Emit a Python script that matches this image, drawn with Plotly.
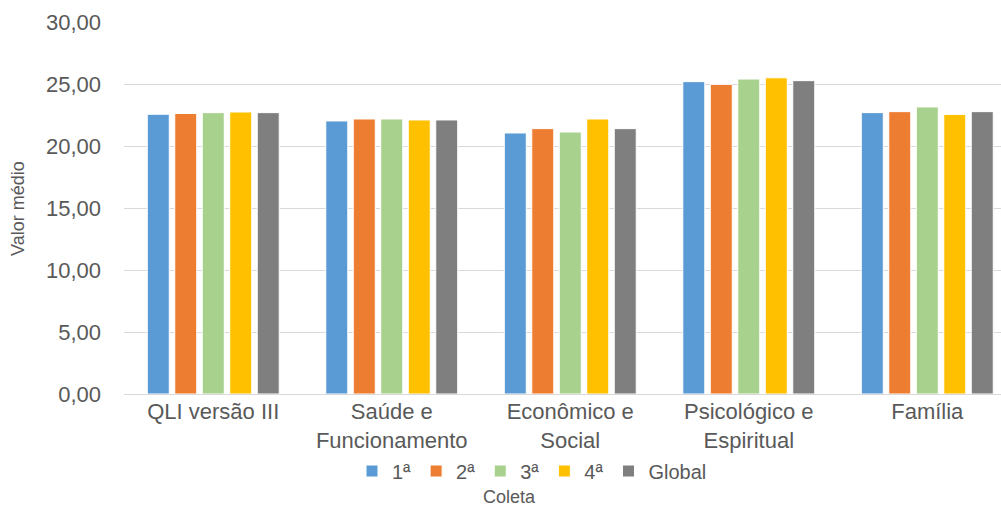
import plotly.graph_objects as go

categories = ["QLI versão III", "Saúde e<br>Funcionamento", "Econômico e<br>Social",
              "Psicológico e<br>Espiritual", "Família"]
series_names = ["1ª", "2ª", "3ª", "4ª", "Global"]
v1 = [22.56, 22.02, 21.05, 25.19, 22.69]
v2 = [22.62, 22.18, 21.40, 24.97, 22.77]
v3 = [22.69, 22.18, 21.13, 25.40, 23.15]
v4 = [22.74, 22.10, 22.18, 25.50, 22.55]
vg = [22.69, 22.10, 21.40, 25.27, 22.77]
values = [v1, v2, v3, v4, vg]
colors = ["#5B9BD5", "#ED7D31", "#A9D18E", "#FFC000", "#7F7F7F"]

FONT = "Liberation Sans, Arial, sans-serif"
TXT = "#595959"

fig = go.Figure()
for name, vals, c in zip(series_names, values, colors):
    fig.add_trace(go.Bar(x=categories, y=vals, name=name,
                         marker=dict(color=c, line=dict(color="white", width=1))))

L, T, PW, PH = 124, 22, 877, 372

fig.update_layout(
    width=1001, height=508,
    margin=dict(l=L, r=0, t=T, b=508 - T - PH),
    paper_bgcolor="white", plot_bgcolor="white",
    barmode="group", bargap=0.23, bargroupgap=0.2,
    separators=",.",
    font=dict(family=FONT, color=TXT),
    showlegend=True,
    legend=dict(orientation="h", x=(532 - L) / PW, xanchor="center",
                y=(T + PH - 471) / PH, yanchor="middle", bgcolor="rgba(0,0,0,0)",
                font=dict(size=20, color=TXT), itemwidth=30, traceorder="normal"),
    xaxis=dict(range=[-0.5, 4.413], showgrid=False, zeroline=False, showline=False,
               ticks="", tickfont=dict(size=22, color=TXT), ticklabelstandoff=2),
    yaxis=dict(range=[0, 30], dtick=5, tickformat=".2f", showgrid=True,
               gridcolor="#D9D9D9", gridwidth=1, zeroline=True, zerolinecolor="#D9D9D9",
               zerolinewidth=1, showline=False, ticks="",
               tickfont=dict(size=22, color=TXT), ticklabelstandoff=22),
    annotations=[
        dict(text="Valor médio", x=(18 - L) / PW, y=(T + PH - 209) / PH,
             xref="paper", yref="paper", showarrow=False, textangle=-90,
             xanchor="center", yanchor="middle", font=dict(size=18, color=TXT)),
        dict(text="Coleta", x=(509 - L) / PW, y=(T + PH - 497) / PH,
             xref="paper", yref="paper", showarrow=False,
             xanchor="center", yanchor="middle", font=dict(size=18, color=TXT)),
    ],
)

fig.write_html("out.html")
